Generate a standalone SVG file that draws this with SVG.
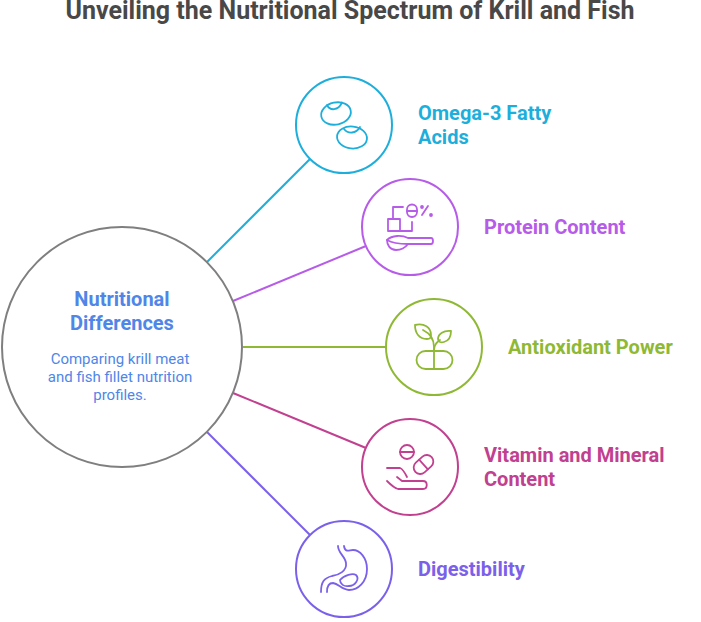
<svg xmlns="http://www.w3.org/2000/svg" width="701" height="622" viewBox="0 0 701 622">
<style>
text{font-family:Roboto,"Liberation Sans",sans-serif}
.t{font-weight:700;font-size:20px}
.c{fill:#fff;stroke-width:2}
.l{stroke-width:2;fill:none}
.i{fill:none;stroke-width:1.8;stroke-linecap:round;stroke-linejoin:round}
.blue{fill:#1eaedb}.pur{fill:#b65ce8}.grn{fill:#8fb935}.mag{fill:#c1408f}.vio{fill:#7b61ea}
</style>
<rect width="701" height="622" fill="#fff"/>
<text x="350" y="19" text-anchor="middle" font-weight="700" font-size="25" fill="#484848">Unveiling the Nutritional Spectrum of Krill and Fish</text>
<g id="connectors">
<line class="l" x1="207" y1="262" x2="310" y2="159" stroke="#1eaedb"/>
<line class="l" x1="233" y1="301" x2="366" y2="246" stroke="#b65ce8"/>
<line class="l" x1="243" y1="347" x2="386" y2="347" stroke="#8fb935"/>
<line class="l" x1="233" y1="393" x2="366" y2="448" stroke="#c1408f"/>
<line class="l" x1="207" y1="432" x2="310" y2="535" stroke="#7b61ea"/>
</g>
<g id="center">
<circle cx="122" cy="347" r="120" fill="#fff" stroke="#7f7f7f" stroke-width="2"/>
<text x="122" y="306" text-anchor="middle" class="t" fill="#4f86e8">Nutritional</text>
<text x="122" y="330" text-anchor="middle" class="t" fill="#4f86e8">Differences</text>
<text x="120" y="364" text-anchor="middle" font-size="15" fill="#4f86e8">Comparing krill meat</text>
<text x="120" y="382" text-anchor="middle" font-size="15" fill="#4f86e8">and fish fillet nutrition</text>
<text x="120" y="400" text-anchor="middle" font-size="15" fill="#4f86e8">profiles.</text>
</g>
<g id="omega">
<circle class="c" cx="344" cy="125" r="48" stroke="#1eaedb"/>
<g class="i" stroke="#1eaedb">
<ellipse cx="336" cy="113.500" rx="15" ry="11" transform="rotate(-12 336 113.500)"/>
<path d="M327 105C330 111 338 111 342 102.500"/>
<ellipse cx="352" cy="137.500" rx="15" ry="11" transform="rotate(6 352 137.500)"/>
<path d="M344 129C348 134 356 134 360 127"/>
</g>
<text x="418" y="120" class="t blue">Omega-3 Fatty</text>
<text x="418" y="144" class="t blue">Acids</text>
</g>
<g id="protein">
<circle class="c" cx="410" cy="227" r="48" stroke="#b65ce8"/>
<g class="i" stroke="#b65ce8">
<path d="M393 218V207H403M388 219H400V231H388ZM400 231H412V222"/>
<rect x="407" y="204.500" width="10" height="12.500" rx="5"/><path d="M407 211H417"/>
<path d="M422 215L428 206"/><circle cx="422" cy="207" r="1"/><circle cx="431" cy="215" r="1"/>
<path d="M387 240C392 235 402 235 408 238H431Q433 238 433 241Q433 244 431 244H408C405 248 400 250 396 250C390 250 387 245 387 240Z"/>
<path d="M387 240C392 243 402 244 408 244"/>
</g>
<text x="484" y="234" class="t pur">Protein Content</text>
</g>
<g id="antioxidant">
<circle class="c" cx="434" cy="347" r="48" stroke="#8fb935"/>
<g class="i" stroke="#8fb935">
<rect x="416.500" y="351" width="36" height="18" rx="9"/>
<path d="M434 369V347C434 340 431 334 423 330"/>
<path d="M415 325C424 323 431 327 431 335C431 339 429 339 427 339C419 339 415 333 415 325Z"/>
<path d="M434 350C434 345 437 342 440 340"/>
<path d="M451 331C444 330 438 334 438 339C438 342 441 343 444 342C448 341 451 337 451 331Z"/>
</g>
<text x="508" y="354" class="t grn">Antioxidant Power</text>
</g>
<g id="vitamin">
<circle class="c" cx="410" cy="467" r="48" stroke="#c1408f"/>
<g class="i" stroke="#c1408f">
<circle cx="407" cy="452" r="7"/><path d="M400 452H414"/>
<rect x="412.500" y="458" width="22" height="13" rx="6.500" transform="rotate(-42 423.500 464.500)"/><path d="M419.100 459.700L427.900 469.300"/>
<path d="M387 468H400C403 469 405 473 407 477M397 477L402 481H423C428 481 428 489 423 489H398C394 488 390 484 387 481"/>
</g>
<text x="484" y="462" class="t mag">Vitamin and Mineral</text>
<text x="484" y="486" class="t mag">Content</text>
</g>
<g id="digest">
<circle class="c" cx="344" cy="569" r="48" stroke="#7b61ea"/>
<g class="i" stroke="#7b61ea">
<path d="M338 546C338 553 345 556 346 563C347 571 339 575 332 576C324 578 321 582 321 592"/>
<path d="M327 592C327 586 329 583 333 583C339 584 342 590 349 590C358 590 367 582 367 569C367 558 360 550 353 550C349 550 345 553 344 546"/>
<path d="M340 580C344 575 353 573 356 575C360 579 355 586 349 586C344 587 340 584 340 580Z"/>
</g>
<text x="418" y="576" class="t vio">Digestibility</text>
</g>
</svg>
